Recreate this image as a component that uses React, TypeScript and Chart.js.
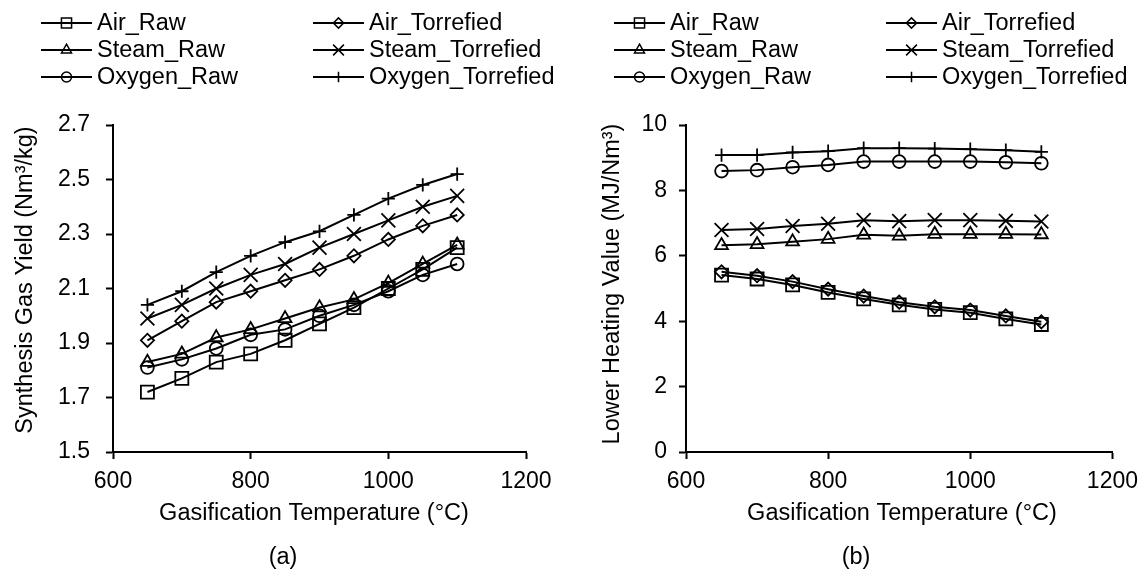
import React, { useEffect, useRef } from 'react';
import { Chart, registerables } from 'chart.js';

Chart.register(...registerables);

// ---------- data ----------
const TEMPERATURES = [650, 700, 750, 800, 850, 900, 950, 1000, 1050, 1100];
const SERIES_NAMES = ['Air_Raw', 'Air_Torrefied', 'Steam_Raw', 'Steam_Torrefied', 'Oxygen_Raw', 'Oxygen_Torrefied'];

// (a) Synthesis gas yield, Nm3/kg
const YIELD_AIR_RAW = [1.72, 1.77, 1.83, 1.86, 1.91, 1.97, 2.03, 2.10, 2.17, 2.25];
const YIELD_AIR_TORREFIED = [1.91, 1.98, 2.05, 2.09, 2.13, 2.17, 2.22, 2.28, 2.33, 2.37];
const YIELD_STEAM_RAW = [1.83, 1.86, 1.92, 1.95, 1.99, 2.03, 2.06, 2.12, 2.19, 2.26];
const YIELD_STEAM_TORREFIED = [1.99, 2.04, 2.10, 2.15, 2.19, 2.25, 2.30, 2.35, 2.40, 2.44];
const YIELD_OXYGEN_RAW = [1.81, 1.84, 1.88, 1.93, 1.95, 2.00, 2.04, 2.09, 2.15, 2.19];
const YIELD_OXYGEN_TORREFIED = [2.04, 2.09, 2.16, 2.22, 2.27, 2.31, 2.37, 2.43, 2.48, 2.52];

// (b) Lower heating value, MJ/Nm3
const LHV_AIR_RAW = [5.41, 5.29, 5.11, 4.88, 4.68, 4.50, 4.36, 4.26, 4.07, 3.90];
const LHV_AIR_TORREFIED = [5.51, 5.39, 5.21, 4.98, 4.77, 4.58, 4.44, 4.34, 4.16, 3.98];
const LHV_STEAM_RAW = [6.32, 6.35, 6.43, 6.51, 6.64, 6.61, 6.66, 6.66, 6.66, 6.65];
const LHV_STEAM_TORREFIED = [6.79, 6.82, 6.91, 6.98, 7.09, 7.06, 7.09, 7.09, 7.07, 7.05];
const LHV_OXYGEN_RAW = [8.59, 8.62, 8.71, 8.78, 8.88, 8.88, 8.88, 8.88, 8.86, 8.83];
const LHV_OXYGEN_TORREFIED = [9.08, 9.08, 9.16, 9.20, 9.29, 9.29, 9.28, 9.26, 9.23, 9.18];

// tick labels
const X_TICKS = [600, 800, 1000, 1200];
const YIELD_TICKS = [1.5, 1.7, 1.9, 2.1, 2.3, 2.5, 2.7];
const LHV_TICKS = [0, 2, 4, 6, 8, 10];

// ---------- styling ----------
const FONT_FAMILY = '"Liberation Sans", Arial, sans-serif';
const POINT_STYLES = ['rect', 'rectRot', 'triangle', 'crossRot', 'circle', 'cross'];
const POINT_RADII = [9.2, 6.6, 7.4, 9.8, 6.4, 6.6];

const LEGEND_COL_X = [41, 313];
const LEGEND_ROW_Y = [23, 50, 77];
const LEGEND_LINE_LEN = 51;
const X_TITLE = 'Gasification Temperature (°C)';

function drawMarker(ctx: CanvasRenderingContext2D, style: string, x: number, y: number, r: number) {
  ctx.beginPath();
  switch (style) {
    case 'rect': {
      const s = r * Math.SQRT1_2;
      ctx.rect(x - s, y - s, 2 * s, 2 * s);
      break;
    }
    case 'rectRot':
      ctx.moveTo(x - r, y);
      ctx.lineTo(x, y - r);
      ctx.lineTo(x + r, y);
      ctx.lineTo(x, y + r);
      ctx.closePath();
      break;
    case 'triangle':
      ctx.moveTo(x, y - r);
      ctx.lineTo(x + r * 0.866, y + r * 0.5);
      ctx.lineTo(x - r * 0.866, y + r * 0.5);
      ctx.closePath();
      break;
    case 'crossRot': {
      const o = r * Math.SQRT1_2;
      ctx.moveTo(x - o, y - o);
      ctx.lineTo(x + o, y + o);
      ctx.moveTo(x + o, y - o);
      ctx.lineTo(x - o, y + o);
      break;
    }
    case 'circle':
      ctx.arc(x, y, r, 0, Math.PI * 2);
      break;
    case 'cross':
      ctx.moveTo(x - r, y);
      ctx.lineTo(x + r, y);
      ctx.moveTo(x, y - r);
      ctx.lineTo(x, y + r);
      break;
  }
  ctx.stroke();
}

interface PanelSpec {
  series: number[][];
  ticks: number[];
  yTitle: string;
  yTitleX: number;
  yTitleY: number;
  xTitleX: number;
  yTickPad: number;
  rightPad: number;
  caption: string;
  decimals: number;
}

function makeAnnotationPlugin(spec: PanelSpec) {
  return {
    id: 'excelLegendAndTitles',
    afterDraw(chart: any) {
      const ctx: CanvasRenderingContext2D = chart.ctx;
      const font = `23.5px ${FONT_FAMILY}`;
      ctx.save();
      chart.data.datasets.forEach((ds: any, i: number) => {
        const x0 = LEGEND_COL_X[i % 2];
        const y = LEGEND_ROW_Y[Math.floor(i / 2)];
        ctx.strokeStyle = '#000';
        ctx.lineWidth = 2;
        ctx.beginPath();
        ctx.moveTo(x0, y);
        ctx.lineTo(x0 + LEGEND_LINE_LEN, y);
        ctx.stroke();
        ctx.lineWidth = 1.5;
        drawMarker(ctx, ds.pointStyle, x0 + LEGEND_LINE_LEN / 2, y, ds.pointRadius * 0.78);
        ctx.fillStyle = '#000';
        ctx.font = font;
        ctx.textAlign = 'left';
        ctx.textBaseline = 'middle';
        ctx.fillText(ds.label, x0 + LEGEND_LINE_LEN + 5, y + 1);
      });
      ctx.fillStyle = '#000';
      ctx.font = font;
      ctx.textAlign = 'center';
      ctx.textBaseline = 'middle';
      // x-axis title
      ctx.fillText(X_TITLE, spec.xTitleX, 514);
      // caption
      ctx.fillText(spec.caption, 283, 558);
      // y-axis title (rotated)
      ctx.save();
      ctx.translate(spec.yTitleX, spec.yTitleY);
      ctx.rotate(-Math.PI / 2);
      ctx.fillText(spec.yTitle, 0, 0);
      ctx.restore();
      ctx.restore();
    },
  };
}

function makeConfig(spec: PanelSpec): any {
  const datasets = spec.series.map((vals, i) => ({
    label: SERIES_NAMES[i],
    data: TEMPERATURES.map((t, j) => ({ x: t, y: vals[j] })),
    borderColor: '#000',
    borderWidth: 2,
    pointStyle: POINT_STYLES[i],
    pointRadius: POINT_RADII[i],
    pointBorderColor: '#000',
    pointBackgroundColor: 'rgba(0,0,0,0)',
    pointBorderWidth: 1.8,
    tension: 0,
    fill: false,
  }));
  const tickFont = { size: 23, family: FONT_FAMILY };
  return {
    type: 'line',
    data: { datasets },
    options: {
      animation: false,
      responsive: false,
      devicePixelRatio: 1,
      layout: { padding: { top: 125, left: 0, right: spec.rightPad, bottom: 0 } },
      plugins: { legend: { display: false }, tooltip: { enabled: false }, title: { display: false } },
      scales: {
        x: {
          type: 'linear',
          min: X_TICKS[0],
          max: X_TICKS[X_TICKS.length - 1],
          afterBuildTicks: (s: any) => {
            s.ticks = X_TICKS.map((v) => ({ value: v }));
          },
          afterFit: (s: any) => {
            s.height = 119;
          },
          ticks: { font: tickFont, color: '#000', padding: 9, maxRotation: 0, autoSkip: false, callback: (v: any) => String(v) },
          grid: { drawOnChartArea: false, drawTicks: true, tickLength: 7, tickColor: '#000', tickWidth: 2, color: '#000' },
          border: { display: true, color: '#000', width: 2 },
          title: { display: false },
        },
        y: {
          type: 'linear',
          min: spec.ticks[0],
          max: spec.ticks[spec.ticks.length - 1],
          afterBuildTicks: (s: any) => {
            s.ticks = spec.ticks.map((v) => ({ value: v }));
          },
          afterFit: (s: any) => {
            s.width = 113;
          },
          ticks: { font: tickFont, color: '#000', padding: spec.yTickPad, autoSkip: false, callback: (v: any) => Number(v).toFixed(spec.decimals) },
          grid: { drawOnChartArea: false, drawTicks: true, tickLength: 7, tickColor: '#000', tickWidth: 2, color: '#000' },
          border: { display: true, color: '#000', width: 2 },
          title: { display: false },
        },
      },
    },
    plugins: [makeAnnotationPlugin(spec)],
  };
}

function Panel({ spec, left, width }: { spec: PanelSpec; left: number; width: number }) {
  const ref = useRef<HTMLCanvasElement | null>(null);
  useEffect(() => {
    if (!ref.current) return;
    Chart.defaults.font.family = FONT_FAMILY;
    Chart.defaults.color = '#000';
    const chart = new Chart(ref.current, makeConfig(spec));
    return () => chart.destroy();
  }, [spec]);
  return (
    <canvas
      ref={ref}
      width={width}
      height={571}
      style={{ position: 'absolute', left, top: 0, width, height: 571, display: 'block' }}
    />
  );
}

const YIELD_SPEC: PanelSpec = {
  series: [YIELD_AIR_RAW, YIELD_AIR_TORREFIED, YIELD_STEAM_RAW, YIELD_STEAM_TORREFIED, YIELD_OXYGEN_RAW, YIELD_OXYGEN_TORREFIED],
  ticks: YIELD_TICKS,
  yTitle: 'Synthesis Gas Yield (Nm³/kg)',
  yTitleX: 26,
  yTitleY: 280,
  xTitleX: 314,
  yTickPad: 16,
  rightPad: 47,
  caption: '(a)',
  decimals: 1,
};

const LHV_SPEC: PanelSpec = {
  series: [LHV_AIR_RAW, LHV_AIR_TORREFIED, LHV_STEAM_RAW, LHV_STEAM_TORREFIED, LHV_OXYGEN_RAW, LHV_OXYGEN_TORREFIED],
  ticks: LHV_TICKS,
  yTitle: 'Lower Heating Value (MJ/Nm³)',
  yTitleX: 40,
  yTitleY: 284,
  xTitleX: 329,
  yTickPad: 12,
  rightPad: 31,
  caption: '(b)',
  decimals: 0,
};

export default function App() {
  return (
    <div style={{ position: 'absolute', left: 0, top: 0, width: 1147, height: 571, background: '#fff', overflow: 'hidden' }}>
      <Panel spec={YIELD_SPEC} left={0} width={573} />
      <Panel spec={LHV_SPEC} left={573} width={574} />
    </div>
  );
}
